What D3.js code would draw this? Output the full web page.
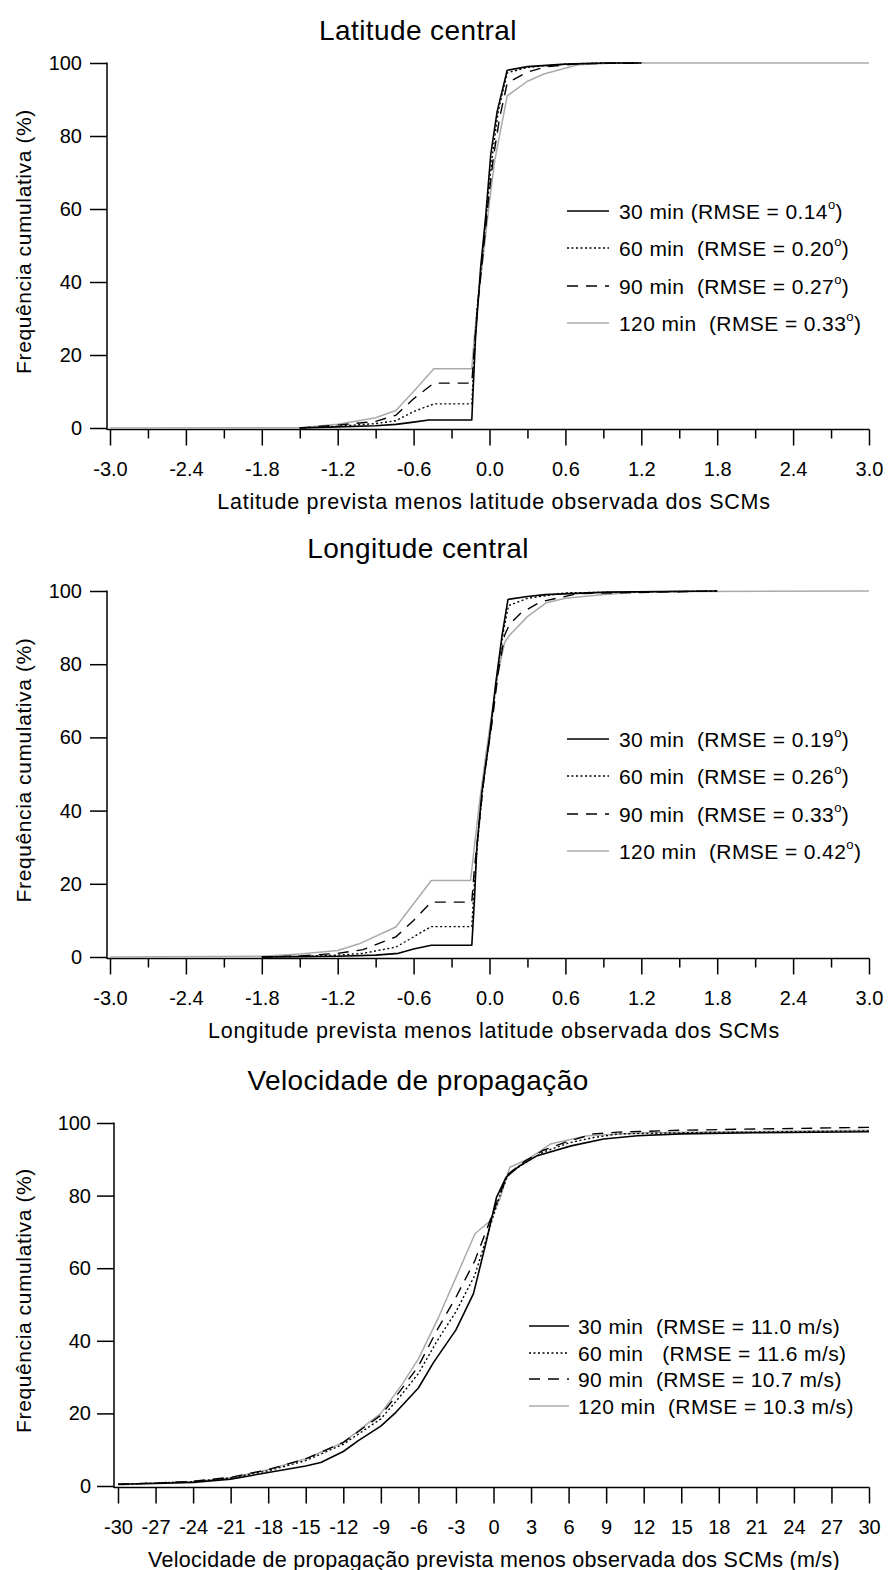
<!DOCTYPE html>
<html>
<head>
<meta charset="utf-8">
<script src="https://cdn.jsdelivr.net/npm/d3@7"></script>
<style>
  body { margin: 0; background: #fff; }
  text { font-family: Arial, "Liberation Sans", sans-serif; fill: #000; white-space: pre; }
</style>
</head>
<body>
<svg id="chart" width="888" height="1570"></svg>
<script>
// tick values
const latTicks = [-3.0, -2.4, -1.8, -1.2, -0.6, 0.0, 0.6, 1.2, 1.8, 2.4, 3.0];
const latMinor = [-2.7, -2.1, -1.5, -0.9, -0.3, 0.3, 0.9, 1.5, 2.1, 2.7];
const velTicks = [-30, -27, -24, -21, -18, -15, -12, -9, -6, -3, 0, 3, 6, 9, 12, 15, 18, 21, 24, 27, 30];
const pctTicks = [0, 20, 40, 60, 80, 100];

// latitude central: [error, cumulative %]
const lat30 = [[-1.5,0],[-1.2,0.3],[-0.9,0.6],[-0.74,1.0],[-0.6,1.6],[-0.48,2.2],[-0.14,2.2],[-0.13,10],[-0.11,25],[-0.07,44],[-0.03,58],[0.01,75],[0.06,86.6],[0.14,98],[0.3,99],[0.6,99.7],[0.9,100],[1.2,100]];
const lat60 = [[-1.5,0],[-1.2,0.5],[-0.9,1.2],[-0.74,2],[-0.6,4.5],[-0.44,6.6],[-0.14,6.6],[-0.12,20],[-0.10,32],[-0.06,46],[-0.02,60],[0.02,74],[0.07,87],[0.14,97.3],[0.3,98.8],[0.6,99.7],[0.9,100],[1.2,100]];
const lat90 = [[-1.5,0],[-1.2,0.8],[-0.9,1.8],[-0.74,3.5],[-0.6,8],[-0.44,12.3],[-0.14,12.3],[-0.12,22],[-0.09,35],[-0.05,48],[-0.01,62],[0.03,74],[0.08,85],[0.14,94.5],[0.3,97.5],[0.45,99],[0.7,99.8],[1.2,100]];
const lat120 = [[-3,0],[-1.5,0.1],[-1.2,1],[-0.9,2.8],[-0.74,4.8],[-0.6,10],[-0.44,16.2],[-0.14,16.2],[-0.12,25],[-0.08,38],[-0.04,50],[0.0,62],[0.04,73],[0.09,82],[0.14,91],[0.3,95],[0.43,97],[0.7,99.5],[1.0,100],[3.0,100]];

// longitude central
const lon30 = [[-1.8,0],[-1.5,0.1],[-1.2,0.2],[-0.9,0.5],[-0.72,1.0],[-0.6,2.2],[-0.46,3.2],[-0.14,3.2],[-0.12,15],[-0.10,30],[-0.06,45],[0.0,60],[0.05,75],[0.10,88],[0.146,97.7],[0.3,98.5],[0.44,99],[0.93,99.7],[1.8,100]];
const lon60 = [[-1.8,0],[-1.5,0.2],[-1.2,0.5],[-1.0,1],[-0.74,2.7],[-0.6,5.5],[-0.46,8.3],[-0.14,8.3],[-0.12,20],[-0.09,33],[-0.05,47],[0.01,62],[0.06,77],[0.11,89],[0.15,96],[0.3,98],[0.6,99.5],[1.8,100]];
const lon90 = [[-1.8,0],[-1.5,0.3],[-1.2,1],[-1.0,2],[-0.74,5.5],[-0.6,10],[-0.46,15],[-0.14,15],[-0.12,24],[-0.08,37],[-0.04,50],[0.02,64],[0.07,78],[0.12,88],[0.16,91],[0.25,94],[0.4,97],[0.7,99.3],[1.8,100]];
const lon120 = [[-3,0],[-1.8,0.2],[-1.5,0.8],[-1.2,1.8],[-1.03,3.6],[-0.74,8.2],[-0.46,20.9],[-0.15,20.9],[-0.12,30],[-0.08,42],[-0.03,55],[0.02,67],[0.07,78],[0.12,86],[0.16,88],[0.3,93],[0.45,96.8],[0.6,98],[0.89,99],[1.2,99.8],[3,100]];

// velocidade de propagacao (m/s)
const vel30 = [[-30,0.5],[-27,0.7],[-24,1],[-21,1.9],[-18,3.7],[-15,5.5],[-13.8,6.5],[-12,9.5],[-10.8,12.5],[-9,16.5],[-7.8,20.3],[-6,27],[-4.8,34],[-3,43],[-1.6,53],[-0.6,67],[0.24,79.5],[1,85],[2,88],[3.5,91],[6.2,93.7],[8.8,95.6],[11.5,96.5],[15,97],[21,97.3],[30,97.6]];
const vel60 = [[-30,0.5],[-27,0.8],[-24,1.2],[-21,2.2],[-18,4.2],[-15,7],[-12,11.5],[-9,18.5],[-7.5,24.5],[-6,31],[-4.5,40],[-3,48],[-1.5,58],[-0.5,69],[0.5,80],[1.2,86],[2.5,89],[4,92],[6,94.5],[8,96],[10,97],[15,97.3],[30,97.8]];
const vel90 = [[-30,0.5],[-27,0.8],[-24,1.3],[-21,2.4],[-18,4.5],[-15,7.5],[-12,12],[-9,19.5],[-7.5,26],[-6,33],[-4.5,43],[-3,52],[-1.5,62],[-0.5,71],[0.5,80.5],[1.2,86],[2.5,89.5],[4,92.5],[6,95],[8,97],[10,97.5],[15,98],[20,98.3],[30,98.8]];
const vel120 = [[-30,0.3],[-27,0.8],[-24,1.2],[-21,2.3],[-18,4.5],[-15,7.5],[-12,12],[-9,20],[-7.3,28],[-6,35],[-4.4,46.4],[-2.8,59],[-1.48,69.5],[-0.28,73],[0.5,79],[1.3,87.8],[2.75,90],[4.6,94.3],[7.5,96.5],[12,97.3],[30,98]];

// legend texts
const latLegend = ['30 min (RMSE = 0.14', '60 min  (RMSE = 0.20', '90 min  (RMSE = 0.27', '120 min  (RMSE = 0.33'];
const lonLegend = ['30 min  (RMSE = 0.19', '60 min  (RMSE = 0.26', '90 min  (RMSE = 0.33', '120 min  (RMSE = 0.42'];
const velLegend = ['30 min  (RMSE = 11.0 m/s)', '60 min   (RMSE = 11.6 m/s)', '90 min  (RMSE = 10.7 m/s)', '120 min  (RMSE = 10.3 m/s)'];

// line styles: 30, 60, 90, 120 min
const styles = [
  { color: '#000', width: 1.6, dash: null },
  { color: '#000', width: 1.4, dash: '2,2.5' },
  { color: '#000', width: 1.4, dash: '11,8' },
  { color: '#aaa', width: 1.5, dash: null }
];

const panels = [
  { title: 'Latitude central', xLabel: 'Latitude prevista menos latitude observada dos SCMs',
    domain: [-3, 3], ticks: latTicks, minor: latMinor, fmt: d => d.toFixed(1),
    series: [lat30, lat60, lat90, lat120], legend: latLegend, degree: true,
    x0: 110, x1: 869, yBot: 428, yTop: 63, axisX: 107, labRight: 82, titleY: 40, labSpacing: 0.75,
    legX: 567, legLen: 42, legText: 619, legY: [211, 248, 286, 323] },
  { title: 'Longitude central', xLabel: 'Longitude prevista menos latitude observada dos SCMs',
    domain: [-3, 3], ticks: latTicks, minor: latMinor, fmt: d => d.toFixed(1),
    series: [lon30, lon60, lon90, lon120], legend: lonLegend, degree: true,
    x0: 110, x1: 869, yBot: 957, yTop: 591, axisX: 107, labRight: 82, titleY: 558, labSpacing: 0.75,
    legX: 567, legLen: 42, legText: 619, legY: [739, 776, 814, 851] },
  { title: 'Velocidade de propagação', xLabel: 'Velocidade de propagação prevista menos observada dos SCMs (m/s)',
    domain: [-30, 30], ticks: velTicks, minor: [], fmt: d => String(d),
    series: [vel30, vel60, vel90, vel120], legend: velLegend, degree: false,
    x0: 118, x1: 869, yBot: 1486, yTop: 1123, axisX: 114, labRight: 91, titleY: 1090, labSpacing: 0.3,
    legX: 529, legLen: 40, legText: 578, legY: [1326, 1353, 1379, 1406] }
];

const svg = d3.select('#chart');

panels.forEach(p => {
  const x = d3.scaleLinear().domain(p.domain).range([p.x0, p.x1]);
  const y = d3.scaleLinear().domain([0, 100]).range([p.yBot, p.yTop]);
  const g = svg.append('g');
  const axisY = p.yBot + 1.5;

  // title
  g.append('text')
    .attr('x', 418).attr('y', p.titleY)
    .attr('text-anchor', 'middle')
    .style('font-size', '28px')
    .style('letter-spacing', '0.4px')
    .text(p.title);

  // y axis
  const yAxis = d3.axisLeft(y).tickValues(pctTicks).tickSize(17).tickSizeOuter(0)
    .tickPadding(p.axisX - 17 - p.labRight).tickFormat(d => d);
  const yG = g.append('g').attr('transform', `translate(${p.axisX},0)`).call(yAxis);
  yG.select('.domain').remove();
  yG.selectAll('line').attr('stroke', '#000').attr('stroke-width', 1.5);
  yG.selectAll('text').style('font-size', '20px').attr('font-family', null);
  g.append('line')
    .attr('x1', p.axisX).attr('x2', p.axisX)
    .attr('y1', p.yTop - 0.5).attr('y2', axisY + 0.5)
    .attr('stroke', '#000').attr('stroke-width', 1.5);

  // x axis
  const xAxis = d3.axisBottom(x).tickValues(p.ticks).tickSize(16).tickSizeOuter(0)
    .tickPadding(16).tickFormat(p.fmt);
  const xG = g.append('g').attr('transform', `translate(0,${axisY})`).call(xAxis);
  xG.select('.domain').remove();
  xG.selectAll('line').attr('stroke', '#000').attr('stroke-width', 1.5);
  xG.selectAll('text').style('font-size', '20px').attr('font-family', null);

  if (p.minor.length) {
    const mG = g.append('g').attr('transform', `translate(0,${axisY})`)
      .call(d3.axisBottom(x).tickValues(p.minor).tickSize(9).tickSizeOuter(0).tickFormat(''));
    mG.select('.domain').remove();
    mG.selectAll('line').attr('stroke', '#000').attr('stroke-width', 1.5);
  }
  g.append('line')
    .attr('x1', p.axisX).attr('x2', p.x1 + 0.5)
    .attr('y1', axisY).attr('y2', axisY)
    .attr('stroke', '#000').attr('stroke-width', 1.5);

  // axis labels
  g.append('text')
    .attr('x', 494).attr('y', axisY + 79)
    .attr('text-anchor', 'middle')
    .style('font-size', '21.5px')
    .style('letter-spacing', p.labSpacing + 'px')
    .text(p.xLabel);
  g.append('text')
    .attr('transform', `translate(31,${(p.yTop + p.yBot) / 2 - 4}) rotate(-90)`)
    .attr('text-anchor', 'middle')
    .style('font-size', '21px')
    .style('letter-spacing', '0.6px')
    .text('Frequência cumulativa (%)');

  // curves, gray underneath
  const line = d3.line().x(d => x(d[0])).y(d => y(d[1]));
  [3, 2, 1, 0].forEach(i => {
    g.append('path')
      .datum(p.series[i])
      .attr('d', line)
      .attr('fill', 'none')
      .attr('stroke', styles[i].color)
      .attr('stroke-width', styles[i].width)
      .attr('stroke-dasharray', styles[i].dash)
      .attr('stroke-linejoin', 'round');
  });

  // legend
  p.legend.forEach((lab, i) => {
    const ly = p.legY[i];
    g.append('line')
      .attr('x1', p.legX).attr('x2', p.legX + p.legLen)
      .attr('y1', ly).attr('y2', ly)
      .attr('stroke', styles[i].color)
      .attr('stroke-width', styles[i].width)
      .attr('stroke-dasharray', styles[i].dash);
    const t = g.append('text')
      .attr('x', p.legText).attr('y', ly + 7.5)
      .style('font-size', '21px')
      .style('letter-spacing', '0.4px')
      .text(lab);
    if (p.degree) {
      t.append('tspan').attr('dy', -10).style('font-size', '13px').text('o');
      t.append('tspan').attr('dy', 10).text(')');
    }
  });
});
</script>
</body>
</html>
